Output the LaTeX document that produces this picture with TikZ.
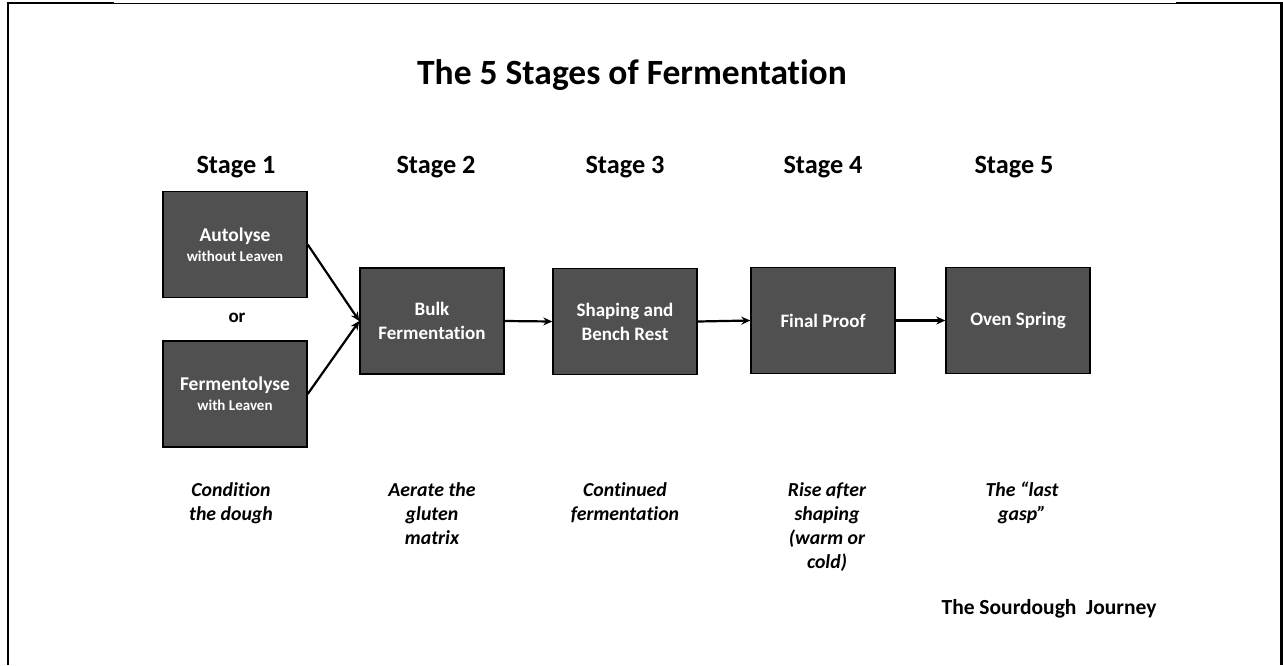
\documentclass[tikz,border=0pt]{standalone}
\usepackage{fontspec}
\setmainfont{Carlito}[Ligatures={NoCommon,NoRare,NoContextual}, RawFeature={-liga;-clig;-dlig}]
\usetikzlibrary{arrows.meta}
\definecolor{boxgray}{RGB}{80,80,80}
\newcommand{\subsize}{\fontsize{15}{18}\selectfont}
\tikzset{
  stagebox/.style={draw=black, line width=1.4pt, fill=boxgray, minimum width=144pt, minimum height=106pt,
    text=white, align=center, inner sep=0pt, font=\bfseries\fontsize{19}{24}\selectfont},
  stagelabel/.style={font=\bfseries\fontsize{26.3}{30}\selectfont, inner sep=0pt},
  desc/.style={font=\bfseries\itshape\fontsize{19.8}{24}\selectfont, align=center, anchor=north, inner sep=0pt},
  flow/.style={line width=2.2pt, -{Stealth[length=9pt,width=8pt]}}
}
\begin{document}
\begin{tikzpicture}[x=1pt,y=-1pt]
\useasboundingbox (0,0) rectangle (1283,665);
% frame
\draw[line width=2.4pt] (7.8,665) -- (7.8,2.8) -- (114,2.8);
\draw[line width=1pt] (114,3.2) -- (1176,3.2);
\draw[line width=2.4pt] (1176,2.8) -- (1281.5,2.8) -- (1281.5,665);
% title
\node[font=\bfseries\fontsize{35.5}{40}\selectfont, inner sep=0pt] (title) at (632,75) {The 5 Stages of Fermentation};
% stage labels
\node[stagelabel] (s1) at (236,167) {Stage 1};
\node[stagelabel] (s2) at (436,167) {Stage 2};
\node[stagelabel] (s3) at (625,167) {Stage 3};
\node[stagelabel] (s4) at (823,167) {Stage 4};
\node[stagelabel] (s5) at (1014,167) {Stage 5};
% boxes
\node[stagebox] (auto) at (235,244.5) {{\fontsize{19.5}{24}\selectfont Autolyse}\\[-4pt]{\subsize without Leaven}};
\node[stagebox] (ferm) at (235,394) {{\fontsize{19.5}{24}\selectfont Fermentolyse}\\[-4pt]{\subsize with Leaven}};
\node[font=\bfseries\fontsize{19}{22}\selectfont, inner sep=0pt] (or) at (237,318) {or};
\node[stagebox] (bulk) at (432,321) {Bulk\\Fermentation};
\node[stagebox] (shape) at (625,321.5) {Shaping and\\Bench Rest};
\node[stagebox] (final) at (823,320.5) {Final Proof};
\node[stagebox] (oven) at (1018,320.5) {Oven Spring};
% connectors
\draw[flow] (auto.east) -- (bulk.west);
\draw[flow] (ferm.east) -- (bulk.west);
\draw[flow] (bulk.east) -- (shape.west);
\draw[flow] (shape.east) -- (final.west);
\draw[flow] (final.east) -- (oven.west);
% descriptions
\node[desc] (d1) at (231,482) {Condition\\the dough};
\node[desc] (d2) at (432,482) {Aerate the\\gluten\\matrix};
\node[desc] (d3) at (625,482) {Continued\\fermentation};
\node[desc] (d4) at (827,482) {Rise after\\shaping\\(warm or\\cold)};
\node[desc] (d5) at (1022,482) {The “last\\gasp”};
% credit
\node[font=\bfseries\fontsize{21.5}{24}\selectfont, inner sep=0pt] (credit) at (1049,609) {The Sourdough\ \ Journey};
\end{tikzpicture}
\end{document}
